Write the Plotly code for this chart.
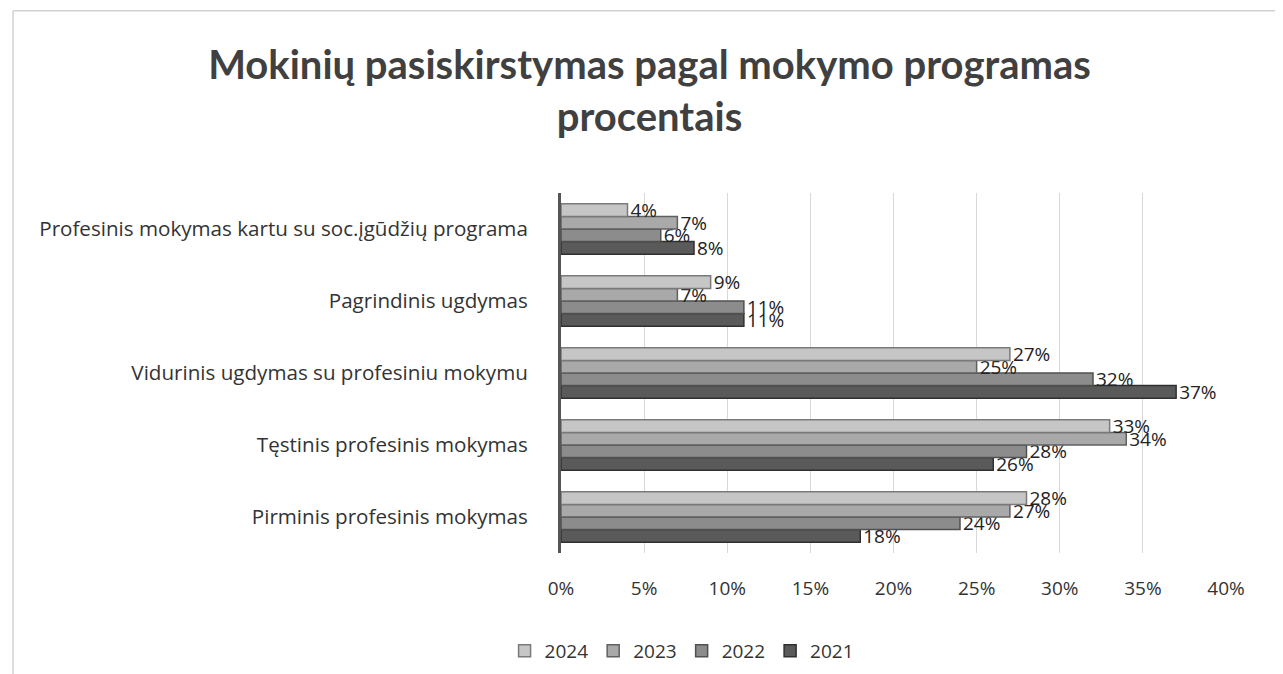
import plotly.graph_objects as go

categories = [
    "Pirminis profesinis mokymas",
    "Tęstinis profesinis mokymas",
    "Vidurinis ugdymas su profesiniu mokymu",
    "Pagrindinis ugdymas",
    "Profesinis mokymas kartu su soc.įgūdžių programa",
]
years = ["2021", "2022", "2023", "2024"]
v2021 = [18, 26, 37, 11, 8]
v2022 = [24, 28, 32, 11, 6]
v2023 = [27, 34, 25, 7, 7]
v2024 = [28, 33, 27, 9, 4]
series = [v2021, v2022, v2023, v2024]
colors = ["#5a5a5a", "#8c8c8c", "#a9a9a9", "#c6c6c6"]
edge = ["#303030", "#505050", "#606060", "#7a7a7a"]
x_ticks = [0, 5, 10, 15, 20, 25, 30, 35, 40]

FONT = "Open Sans"

fig = go.Figure()
for yr, vals, c, e in zip(years, series, colors, edge):
    fig.add_trace(go.Bar(
        y=categories, x=vals, name=yr, orientation="h",
        marker=dict(color=c, line=dict(color=e, width=1.5)),
        text=[f"{v}%" for v in vals], textposition="outside",
        constraintext="none",
        textfont=dict(size=19, color="#222222", family=FONT),
        cliponaxis=False,
    ))

fig.update_layout(
    width=1283, height=674,
    paper_bgcolor="white", plot_bgcolor="white",
    barmode="group", bargap=0.3, bargroupgap=0,
    margin=dict(l=553, r=65, t=185, b=129, autoexpand=False),
    font=dict(family=FONT, size=19, color="#333333"),
    title=dict(
        text="<b>Mokinių pasiskirstymas pagal mokymo programas<br>procentais</b>",
        x=0.5, xanchor="center", y=0.895, yanchor="top",
        font=dict(size=40, color="#404040", family="Lato"),
    ),
    legend=dict(orientation="h", x=0.525, xref="container", xanchor="center",
                y=-0.272, yanchor="middle", itemwidth=30,
                traceorder="reversed", font=dict(size=19, color="#333333", family=FONT)),
    xaxis=dict(range=[0, 40], tickvals=x_ticks, ticktext=[f"{t}%" for t in x_ticks],
               showgrid=True, gridcolor="#d8d8d8", gridwidth=1, zeroline=False,
               ticks="", ticklabelstandoff=22, tickfont=dict(size=19, color="#333333"),
               automargin=False),
    yaxis=dict(showgrid=False, showline=True, linecolor="#555555", linewidth=3,
               ticks="", ticklabelstandoff=26, tickfont=dict(size=20.6, color="#333333"),
               automargin=False),
    shapes=[dict(type="rect", xref="paper", yref="paper",
                 x0=-0.824, x1=1.092, y0=-0.353, y1=1.506,
                 line=dict(color="#bbbbbb", width=1))],
)

fig.write_html("out.html")
